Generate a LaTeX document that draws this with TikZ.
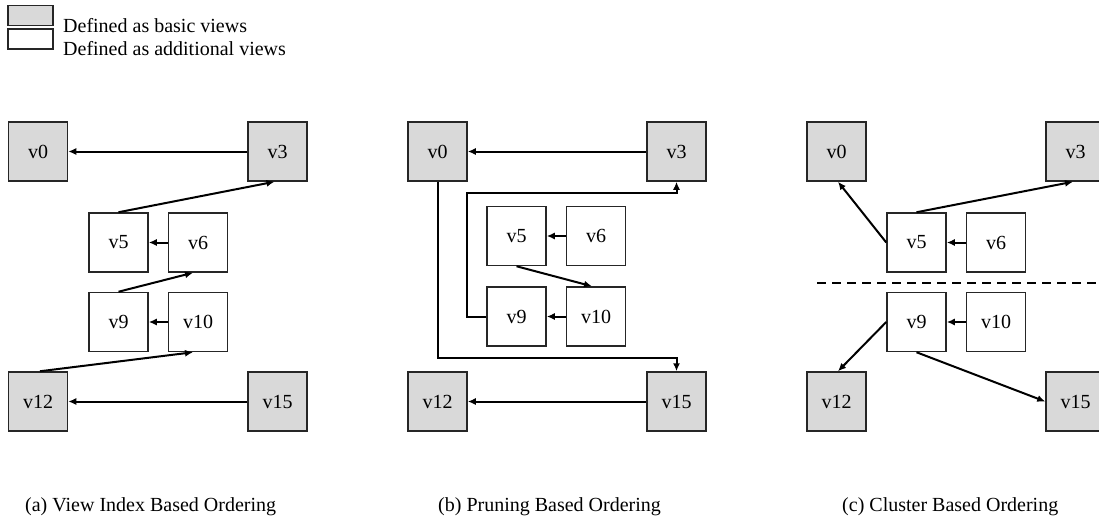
\documentclass[tikz,border=0pt]{standalone}
\usepackage{fontspec}
\setmainfont{Liberation Serif}
\usetikzlibrary{arrows.meta}
\definecolor{basicgray}{RGB}{217,217,217}
\tikzset{
  view/.style={draw=black!85, line width=1.5pt, minimum width=59pt, minimum height=59pt, inner sep=0pt, font=\fontsize{20}{24}\selectfont},
  basic/.style={view, fill=basicgray},
  extra/.style={view, fill=white},
  conn/.style={line width=2pt, -{Latex[length=8pt,width=7pt]}},
  legendbox/.style={draw=black!85, line width=1.3pt, minimum width=45pt, minimum height=20pt, inner sep=0pt},
  lbl/.style={font=\fontsize{20}{24}\selectfont, inner sep=0pt},
}
\begin{document}
\begin{tikzpicture}[x=1pt, y=-1pt]
\useasboundingbox (0,0) rectangle (1099,524);
% legend
\node[legendbox, fill=basicgray] (lg1) at (30.5,15.5) {};
\node[legendbox, fill=white] (lg2) at (30.5,39) {};
\node[lbl, anchor=base west] (lt1) at (63,33) {Defined as basic views};
\node[lbl, anchor=base west] (lt2) at (63,56) {Defined as additional views};

% (a)
\node[basic] (a0) at (38,151.5) {v0};
\node[basic] (a3) at (277.5,151.5) {v3};
\node[extra] (a5) at (118.5,242.5) {v5};
\node[extra] (a6) at (198,242.5) {v6};
\node[extra] (a9) at (118.5,322) {v9};
\node[extra] (a10) at (198,322) {v10};
\node[basic] (a12) at (38,401.5) {v12};
\node[basic] (a15) at (277.5,401.5) {v15};
\draw[conn] (a3.west) -- (a0.east);
\draw[conn] (a5.north) -- ([xshift=-3pt]a3.south);
\draw[conn] (a6.west) -- (a5.east);
\draw[conn] (a9.north) -- ([xshift=-5pt]a6.south);
\draw[conn] (a10.west) -- (a9.east);
\draw[conn] ([xshift=2pt]a12.north) -- ([xshift=-5pt]a10.south);
\draw[conn] (a15.west) -- (a12.east);

% (b)
\node[basic] (b0) at (437.5,151.5) {v0};
\node[basic] (b3) at (676.5,151.5) {v3};
\node[extra] (b5) at (516.5,236) {v5};
\node[extra] (b6) at (596,236) {v6};
\node[extra] (b9) at (516.5,316.5) {v9};
\node[extra] (b10) at (596,316.5) {v10};
\node[basic] (b12) at (437.5,401.5) {v12};
\node[basic] (b15) at (676.5,401.5) {v15};
\coordinate (bd) at (437.5,358);
\coordinate (bu) at (467,193);
\draw[conn] (b3.west) -- (b0.east);
\draw[conn] (b0.south) -- (bd) -- (bd -| b15.north) -- (b15.north);
\draw[conn] (b9.west) -- (b9.west -| bu) -- (bu) -- (bu -| b3.south) -- (b3.south);
\draw[conn] (b6.west) -- (b5.east);
\draw[conn] (b5.south) -- ([xshift=-4pt]b10.north);
\draw[conn] (b10.west) -- (b9.east);
\draw[conn] (b15.west) -- (b12.east);

% (c)
\node[basic] (c0) at (836.5,151.5) {v0};
\node[basic] (c3) at (1075.5,151.5) {v3};
\node[extra] (c5) at (916.5,242.5) {v5};
\node[extra] (c6) at (996,242.5) {v6};
\node[extra] (c9) at (916.5,322) {v9};
\node[extra] (c10) at (996,322) {v10};
\node[basic] (c12) at (836.5,401.5) {v12};
\node[basic] (c15) at (1075.5,401.5) {v15};
\coordinate (dl) at (817,283);
\coordinate (dr) at (1099,283);
\draw[line width=1.6pt, dash pattern=on 9pt off 6pt] (dl) -- (dr);
\draw[conn] (c5.west) -- ([xshift=1.5pt]c0.south);
\draw[conn] (c5.north) -- ([xshift=-2.5pt]c3.south);
\draw[conn] (c6.west) -- (c5.east);
\draw[conn] (c9.west) -- ([xshift=1.5pt]c12.north);
\draw[conn] (c9.south) -- (c15.west);
\draw[conn] (c10.west) -- (c9.east);

% captions
\node[lbl, anchor=base west] (capa) at (25,511) {(a) View Index Based Ordering};
\node[lbl, anchor=base west] (capb) at (438,511) {(b) Pruning Based Ordering};
\node[lbl, anchor=base west] (capc) at (842,511) {(c) Cluster Based Ordering};
\end{tikzpicture}
\end{document}
